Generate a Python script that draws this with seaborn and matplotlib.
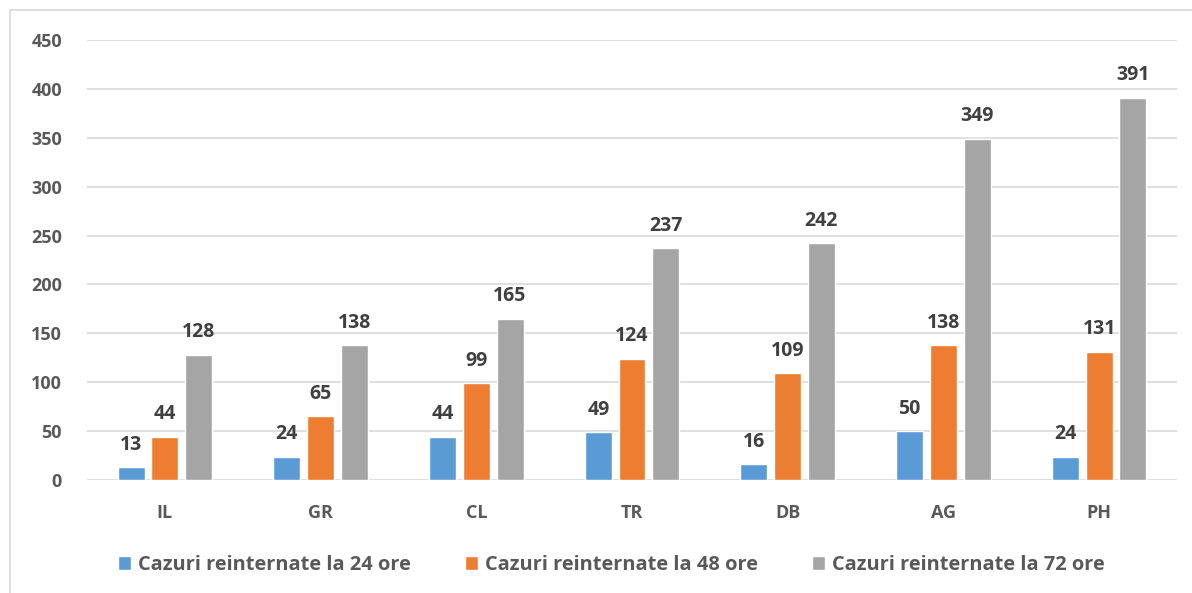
import pandas as pd
import numpy as np
import matplotlib.pyplot as plt
import matplotlib.patches as mpatches
import seaborn as sns

# data
judete = ['IL', 'GR', 'CL', 'TR', 'DB', 'AG', 'PH']
serii = ['Cazuri reinternate la 24 ore',
         'Cazuri reinternate la 48 ore',
         'Cazuri reinternate la 72 ore']
val_24 = [13, 24, 44, 49, 16, 50, 24]
val_48 = [44, 65, 99, 124, 109, 138, 131]
val_72 = [128, 138, 165, 237, 242, 349, 391]
culori = ['#5B9BD5', '#ED7D31', '#A5A5A5']
y_ticks = list(range(0, 451, 50))

df = pd.DataFrame({
    'judet': judete * 3,
    'serie': [serii[0]] * 7 + [serii[1]] * 7 + [serii[2]] * 7,
    'cazuri': val_24 + val_48 + val_72,
})

sns.set_style('white')
plt.rcParams['font.family'] = ['Open Sans', 'DejaVu Sans']
plt.rcParams['font.weight'] = 'bold'

fig = plt.figure(figsize=(11.92, 5.93), dpi=100)
ax = fig.add_axes([87 / 1192, 1 - 480 / 593, 1090 / 1192, 440 / 593])

# chart area border (partly outside the picture, like the screenshot)
fig.patches.append(mpatches.Rectangle((10 / 1192, -0.2), 1.2, 1 - 10 / 593 + 0.2,
                                      transform=fig.transFigure, fill=False,
                                      edgecolor='#D9D9D9', linewidth=1.2, zorder=0))

sns.barplot(data=df, x='judet', y='cazuri', hue='serie', palette=culori,
            width=0.65, gap=0.2, ax=ax, saturation=1, legend=True)

for cont in ax.containers:
    ax.bar_label(cont, padding=9, fontsize=14, fontweight='bold', color='#404040')

ax.set_ylim(0, 450)
ax.set_xlim(-0.5, 6.5)
ax.set_yticks(y_ticks, [str(v) for v in y_ticks], fontweight='bold')
ax.set_xticks(range(len(judete)), judete, fontweight='bold')
ax.yaxis.grid(True, color='#D9D9D9', linewidth=1.2)
ax.set_axisbelow(True)
for s in ax.spines.values():
    s.set_visible(False)
ax.tick_params(axis='both', length=0, labelcolor='#595959', labelsize=13)
ax.tick_params(axis='x', pad=17)
ax.tick_params(axis='y', pad=18)
ax.set_xlabel('')
ax.set_ylabel('')

leg = ax.legend(loc='center', bbox_to_anchor=(0.481, (480 - 565) / 440),
                ncol=3, frameon=False, prop={'size': 14.4, 'weight': 'bold'},
                handlelength=0.65, handleheight=0.65, handletextpad=0.35,
                columnspacing=2.7, labelcolor='#595959')

fig.savefig('out.png', dpi=100)
